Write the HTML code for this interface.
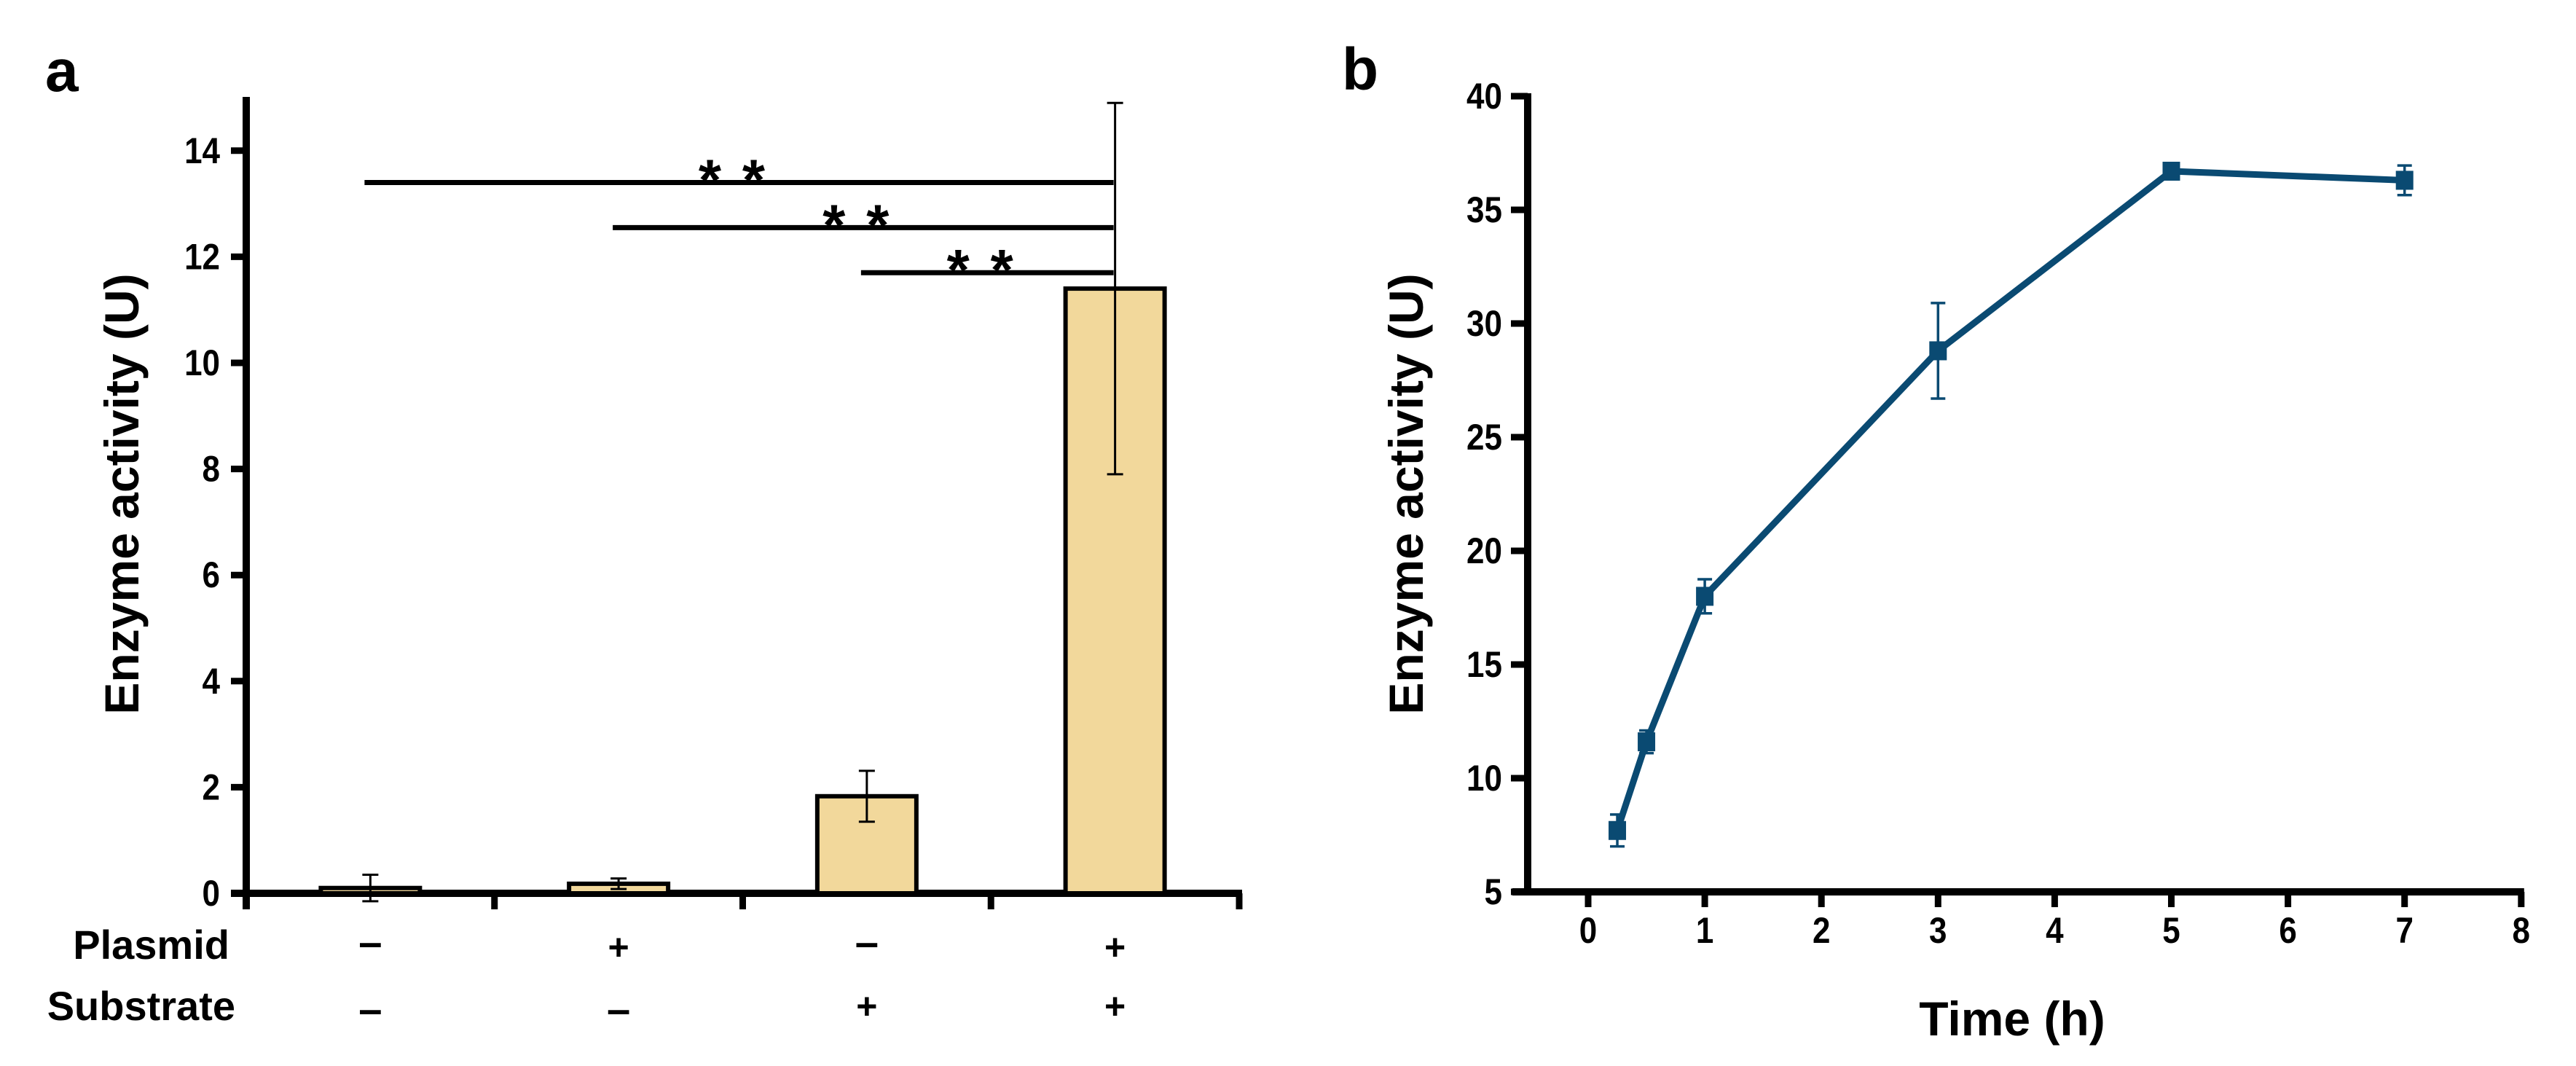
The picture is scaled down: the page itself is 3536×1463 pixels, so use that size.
<!DOCTYPE html>
<html><head><meta charset="utf-8"><style>
html,body{margin:0;padding:0;background:#fff;}
svg{display:block;}
text{font-family:"Liberation Sans",sans-serif;font-weight:bold;fill:#000;}
</style></head><body>
<svg id="fig" width="3536" height="1463" viewBox="0 0 3536 1463" xmlns="http://www.w3.org/2000/svg">
<g id="pa"></g>
<g id="pb"></g>
</svg>
<script>
// ---- Panel a data ----
const barCategories = ["c1","c2","c3","c4"];
const plasmidRow = ["–","+","–","+"];
const substrateRow = ["–","–","+","+"];
const barValues = [0.1, 0.18, 1.83, 11.4];
const barErrors = [0.25, 0.1, 0.48, 3.5];
const yTicksA = [0,2,4,6,8,10,12,14];
const sigFrom = [0,1,2];
const sigTo = [3,3,3];
const sigLevel = [13.4, 12.55, 11.7];
// ---- Panel b data ----
const timeValues = [0.25,0.5,1,3,5,7];
const activityValues = [7.7,11.6,18.0,28.8,36.7,36.3];
const activityErrors = [0.7,0.5,0.75,2.1,0.2,0.65];
const xTicksB = [0,1,2,3,4,5,6,7,8];
const yTicksB = [5,10,15,20,25,30,35,40];

const NS="http://www.w3.org/2000/svg";
function mk(parent,tag,attrs,txt){const e=document.createElementNS(NS,tag);for(const k in attrs)e.setAttribute(k,attrs[k]);if(txt!==undefined)e.textContent=txt;parent.appendChild(e);return e;}

// ===== Panel a =====
const pa=document.getElementById('pa');
const ax0=338, base=1226, catW=340.75;
const yA=v=>base-v*72.8;
const xCat=i=>ax0+catW*(i+0.5);

let t=mk(pa,'text',{x:62,y:125,'font-size':82});


t.textContent='a';

let ln=mk(pa,'line',{x1:ax0,y1:133,x2:ax0,y2:1248,stroke:'#000','stroke-width':10});


ln=mk(pa,'line',{x1:317,y1:base,x2:ax0+catW*4+4,y2:base,stroke:'#000','stroke-width':10});


for(let i=1;i<=4;i++){
  ln=mk(pa,'line',{x1:ax0+catW*i,y1:base,x2:ax0+catW*i,y2:1248,stroke:'#000','stroke-width':9});
  
  
}
yTicksA.forEach(v=>{
  const y=yA(v);
  let l=mk(pa,'line',{x1:317,y1:y,x2:ax0,y2:y,stroke:'#000','stroke-width':9});
  
  
  let tx=mk(pa,'text',{x:302,y:y+17,'font-size':50,'text-anchor':'end',transform:`translate(${302*0.12},0) scale(0.88,1)`},String(v));
  
  
});
t=mk(pa,'text',{x:0,y:0,'font-size':66,'text-anchor':'middle',transform:'translate(190,678) rotate(-90)'},'Enzyme activity (U)');



barValues.forEach((v,i)=>{
  const cx=xCat(i), w=136;
  let r=mk(pa,'rect',{x:cx-w/2,y:yA(v),width:w,height:base-yA(v),fill:'#f2d89b',stroke:'#000','stroke-width':6});
  
  
  const e=barErrors[i];
  let g=mk(pa,'path',{d:`M${cx},${yA(v-e)}V${yA(v+e)}M${cx-11},${yA(v+e)}H${cx+11}M${cx-11},${yA(v-e)}H${cx+11}`,stroke:'#000','stroke-width':3,fill:'none'});
  
  
  let p=mk(pa,'text',{x:cx,y:plasmidRow[i]==='+'?1317:1313,'font-size':plasmidRow[i]==='+'?50:58,'text-anchor':'middle','font-weight':plasmidRow[i]==='+'?'bold':'normal'},plasmidRow[i]);
  
  
  let s=mk(pa,'text',{x:cx,y:substrateRow[i]==='+'?1398:1405,'font-size':substrateRow[i]==='+'?50:58,'text-anchor':'middle','font-weight':substrateRow[i]==='+'?'bold':'normal'},substrateRow[i]);
  
  
});
t=mk(pa,'text',{x:315,y:1316,'font-size':56,'text-anchor':'end'},'Plasmid');


t=mk(pa,'text',{x:323,y:1400,'font-size':56,'text-anchor':'end'},'Substrate');



sigLevel.forEach((lv,k)=>{
  const x1=xCat(sigFrom[k])-8, x2=xCat(sigTo[k])-2, y=yA(lv);
  let l=mk(pa,'line',{x1:x1,y1:y,x2:x2,y2:y,stroke:'#000','stroke-width':7});
  
  
  const mid=(x1+x2)/2-10;
  [-30,30].forEach(dx=>{
    let s=mk(pa,'text',{x:mid+dx,y:y+24,'font-size':80,'font-weight':'normal','text-anchor':'middle'},'*');
    
    
  });
});

// ===== Panel b =====
const pb=document.getElementById('pb');
const bx0=2097, bBase=1224;
const xB=h=>2180+h*160.1;
const yB=v=>bBase-(v-5)*31.2;
t=mk(pb,'text',{x:1842,y:123,'font-size':82},'b');


ln=mk(pb,'line',{x1:bx0,y1:yB(40)-4,x2:bx0,y2:bBase,stroke:'#000','stroke-width':10});


ln=mk(pb,'line',{x1:2076,y1:bBase,x2:xB(8)+4,y2:bBase,stroke:'#000','stroke-width':10});


yTicksB.forEach(v=>{
  const y=yB(v);
  let l=mk(pb,'line',{x1:2074,y1:y,x2:bx0,y2:y,stroke:'#000','stroke-width':9});
  
  
  let tx=mk(pb,'text',{x:2062,y:y+17,'font-size':50,'text-anchor':'end',transform:`translate(${2062*0.12},0) scale(0.88,1)`},String(v));
  
  
});
xTicksB.forEach(h=>{
  const x=xB(h);
  let l=mk(pb,'line',{x1:x,y1:bBase,x2:x,y2:1245,stroke:'#000','stroke-width':9});
  
  
  let tx=mk(pb,'text',{x:x,y:1294,'font-size':50,'text-anchor':'middle',transform:`translate(${x*0.12},0) scale(0.88,1)`},String(h));
  
  
});
t=mk(pb,'text',{x:0,y:0,'font-size':66,'text-anchor':'middle',transform:'translate(1953,678) rotate(-90)'},'Enzyme activity (U)');


t=mk(pb,'text',{x:2762,y:1421,'font-size':66,'text-anchor':'middle'},'Time (h)');



let pts=timeValues.map((h,i)=>xB(h)+','+yB(activityValues[i])).join(' ');
let pl=mk(pb,'polyline',{points:pts,fill:'none',stroke:'#0a4a72','stroke-width':9,'stroke-linejoin':'round'});


timeValues.forEach((h,i)=>{
  const x=xB(h), v=activityValues[i], e=activityErrors[i];
  let g=mk(pb,'path',{d:`M${x},${yB(v-e)}V${yB(v+e)}M${x-10},${yB(v+e)}H${x+10}M${x-10},${yB(v-e)}H${x+10}`,stroke:'#0a4a72','stroke-width':3.5,fill:'none'});
  
  
  let m=mk(pb,'rect',{x:x-12,y:yB(v)-13,width:24,height:26,fill:'#0a4a72'});
  
  
});
</script>
</body></html>
